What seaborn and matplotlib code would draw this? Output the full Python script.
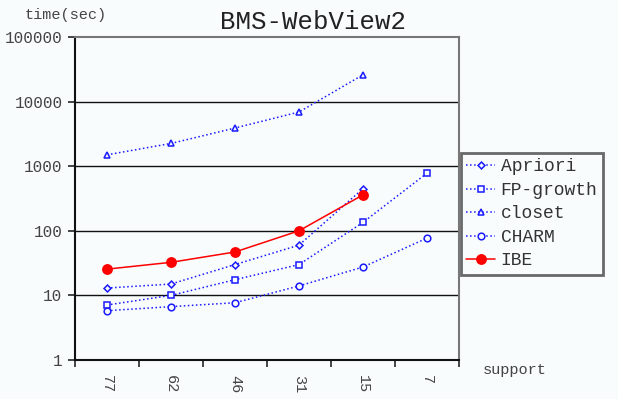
import numpy as np
import pandas as pd
import matplotlib
matplotlib.use("Agg")
import matplotlib.pyplot as plt
import seaborn as sns
from matplotlib.ticker import FixedLocator, NullFormatter

sns.set_style("white")
plt.rcParams["font.family"] = ["Liberation Mono", "DejaVu Sans Mono"]

support = ["77", "62", "46", "31", "15", "7"]
apriori = [13, 15, 30, 60, 450, np.nan]
fp_growth = [7.1, 10, 17.5, 30, 135, 780]
closet = [1500, 2250, 3900, 6900, 26000, np.nan]
charm = [5.8, 6.7, 7.7, 14, 27.5, 77]
ibe = [25.5, 32.5, 47, 100, 360, np.nan]

bg = "#f8fcfd"
blue = "#1a1aff"
open_marker = dict(color=blue, linestyle=":", markerfacecolor=bg,
                   markeredgecolor=blue, markeredgewidth=1.1)
series = [
    ("Apriori", apriori, dict(marker="D", markersize=3.5, **open_marker)),
    ("FP-growth", fp_growth, dict(marker="s", markersize=4.8, **open_marker)),
    ("closet", closet, dict(marker="^", markersize=4.8, **open_marker)),
    ("CHARM", charm, dict(marker="o", markersize=4.8, **open_marker)),
    ("IBE", ibe, dict(color="#ff0000", marker="o", markersize=6.8, linestyle="-",
                      markerfacecolor="#ff0000", markeredgecolor="#ff0000",
                      markeredgewidth=1)),
]

fig = plt.figure(figsize=(6.18, 3.99), dpi=100, facecolor=bg)
ax = fig.add_axes([75 / 618, 1 - 360 / 399, 384 / 618, 323 / 399], facecolor=bg)

for name, vals, style in series:
    df = pd.DataFrame({"support": support, "time": vals}).dropna()
    sns.lineplot(data=df, x="support", y="time", ax=ax, label=name, linewidth=1.1,
                 sort=False, **style)

ax.set_yscale("log")
ax.set_ylim(1, 100000)
ax.set_xlim(-0.5, len(support) - 0.5)
yt = [1, 10, 100, 1000, 10000, 100000]
ax.yaxis.set_major_locator(FixedLocator(yt))
ax.yaxis.set_minor_locator(FixedLocator([]))
ax.set_yticklabels([str(v) for v in yt])
ax.yaxis.set_minor_formatter(NullFormatter())
for v in yt[1:-1]:
    ax.axhline(v, color="#111111", linewidth=1.0, zorder=0.5)

ax.set_xticks(range(len(support)))
ax.set_xticklabels(support, rotation=-90)
ax.xaxis.set_minor_locator(FixedLocator(np.arange(-0.5, len(support), 1.0)))
ax.tick_params(axis="x", which="major", length=0, pad=11, labelsize=11, labelcolor="#444444")
ax.tick_params(axis="x", which="minor", length=5, width=1.2, direction="out", bottom=True)
ax.tick_params(axis="y", which="major", length=5, width=1.2, direction="out", left=True,
               labelsize=11.5, labelcolor="#444444", pad=4)

ax.set_xlabel("")
ax.set_ylabel("")
for side in ["left", "bottom"]:
    ax.spines[side].set_color("#111111")
    ax.spines[side].set_linewidth(1.5)
for side in ["top", "right"]:
    ax.spines[side].set_color("#777777")
    ax.spines[side].set_linewidth(1.5)

fig.text(313 / 618, 1 - 22 / 399, "BMS-WebView2", ha="center", va="center",
         fontsize=18.5, color="#222222")
fig.text(25 / 618, 1 - 15 / 399, "time(sec)", ha="left", va="center",
         fontsize=11, color="#444444")
fig.text(483 / 618, 1 - 370 / 399, "support", ha="left", va="center",
         fontsize=11, color="#444444")

leg = ax.legend(loc="upper left", bbox_to_anchor=(461 / 618, 1 - 153 / 399),
                bbox_transform=fig.transFigure, borderaxespad=0, fontsize=13,
                handlelength=1.6, handletextpad=0.3, labelspacing=0.36,
                frameon=True, fancybox=False, borderpad=0.3)
leg.get_frame().set_edgecolor("#444444")
leg.get_frame().set_linewidth(2)
leg.get_frame().set_facecolor(bg)
for t in leg.get_texts():
    t.set_color("#333333")

fig.savefig("out.png", dpi=100, facecolor=bg)
